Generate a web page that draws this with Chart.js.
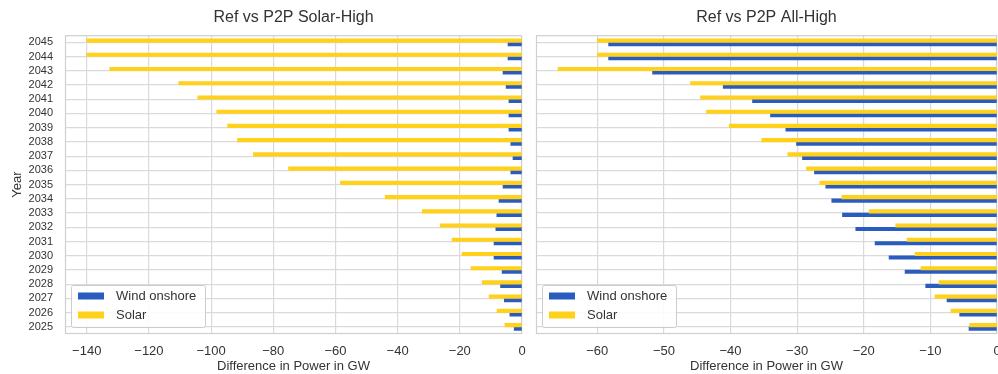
<!DOCTYPE html>
<html>
<head>
<meta charset="utf-8">
<script src="https://cdn.jsdelivr.net/npm/chart.js@4.4.1/dist/chart.umd.min.js"></script>
<style>
  html, body { margin: 0; padding: 0; background: #fff; overflow: hidden; }
  body { width: 998px; height: 374px; position: relative; }
  .panel { position: absolute; top: 0; height: 374px; }
  #left { left: 0; width: 528px; }
  #right { left: 528px; width: 474px; }
</style>
</head>
<body>
<div class="panel" id="left"><canvas id="cLeft" width="528" height="374"></canvas></div>
<div class="panel" id="right"><canvas id="cRight" width="474" height="374"></canvas></div>
<script>
// Years on the category axis (drawn with 2045 at the top)
const years = [2025, 2026, 2027, 2028, 2029, 2030, 2031, 2032, 2033, 2034, 2035,
               2036, 2037, 2038, 2039, 2040, 2041, 2042, 2043, 2044, 2045];

// Ref vs P2P Solar-High, difference in GW
const solarHighSolar = [-5.5, -8.0, -10.6, -12.8, -16.4, -19.3, -22.5, -26.3, -32.1, -44.0, -58.4,
                        -75.1, -86.4, -91.5, -94.7, -98.2, -104.3, -110.4, -132.6, -140.0, -140.0];
const solarHighWind  = [-2.5, -3.9, -5.7, -6.9, -6.4, -9.0, -9.0, -8.4, -8.1, -7.4, -6.1,
                        -3.6, -2.9, -3.6, -4.2, -4.2, -4.2, -5.1, -6.1, -4.5, -4.5];

// Ref vs P2P All-High, difference in GW
const allHighSolar = [-4.1, -6.9, -9.3, -8.7, -11.4, -12.3, -13.5, -15.2, -19.2, -23.3, -26.6,
                      -28.6, -31.4, -35.3, -40.2, -43.6, -44.5, -46.0, -65.9, -60.0, -60.0];
const allHighWind  = [-4.2, -5.6, -7.5, -10.7, -13.8, -16.2, -18.3, -21.2, -23.2, -24.8, -25.7,
                      -27.4, -29.2, -30.1, -31.7, -34.0, -36.7, -41.1, -51.7, -58.3, -58.3];

// Tick values of the x axes
const xTicksSolarHigh = [-140, -120, -100, -80, -60, -40, -20, 0];
const xTicksAllHigh   = [-60, -50, -40, -30, -20, -10, 0];

const WIND_COLOR = '#2a5cc0';
const SOLAR_COLOR = '#ffd11a';
const GRID_COLOR = '#dadada';
const TEXT_COLOR = '#333333';
const FONT = "'Liberation Sans', Arial, sans-serif";

// Plot frame on all four sides
const framePlugin = {
  id: 'frame',
  beforeDatasetsDraw(chart) {
    const { ctx, chartArea: a } = chart;
    ctx.save();
    ctx.strokeStyle = '#cfcfcf';
    ctx.lineWidth = 1.2;
    ctx.strokeRect(a.left + 0.5, a.top + 0.5, a.right - a.left - 1, a.bottom - a.top - 1);
    ctx.restore();
  }
};

// Legend box in the lower-left corner of the plot
const legendBoxPlugin = {
  id: 'legendBox',
  afterDraw(chart) {
    const { ctx, chartArea: a } = chart;
    const items = [
      { text: 'Wind onshore', color: WIND_COLOR },
      { text: 'Solar', color: SOLAR_COLOR }
    ];
    const x = a.left + 6, w = 134, h = 42;
    const y = a.bottom - 7 - h;
    ctx.save();
    ctx.fillStyle = 'rgba(255,255,255,0.85)';
    ctx.strokeStyle = '#cccccc';
    ctx.lineWidth = 1;
    ctx.beginPath();
    ctx.roundRect(x + 0.5, y + 0.5, w, h, 2);
    ctx.fill();
    ctx.stroke();
    ctx.font = '13px ' + FONT;
    ctx.textBaseline = 'middle';
    items.forEach((it, i) => {
      const cy = y + 11 + i * 19;
      ctx.fillStyle = it.color;
      ctx.fillRect(x + 7, cy - 3.5, 26, 7);
      ctx.fillStyle = TEXT_COLOR;
      ctx.fillText(it.text, x + 45, cy);
    });
    ctx.restore();
  }
};

function fmtTick(v) {
  return v === 0 ? '0' : '\u2212' + Math.abs(v);
}

function makeChart(canvasId, title, solar, wind, xTicks, xMin, showYLabels, yWidth, padRight) {
  return new Chart(document.getElementById(canvasId), {
    type: 'bar',
    data: {
      labels: years.map(String),
      datasets: [
        { label: 'Solar', data: solar, backgroundColor: SOLAR_COLOR, barThickness: 3.5, borderWidth: 0 },
        { label: 'Wind onshore', data: wind, backgroundColor: WIND_COLOR, barThickness: 3.5, borderWidth: 0 }
      ]
    },
    options: {
      indexAxis: 'y',
      responsive: false,
      animation: false,
      devicePixelRatio: 1,
      layout: { padding: { left: 0, right: padRight, top: 0, bottom: 0 } },
      plugins: {
        legend: { display: false },
        tooltip: { enabled: false },
        title: {
          display: true,
          text: title,
          fullSize: false,
          color: TEXT_COLOR,
          font: { family: FONT, size: 16, weight: 'normal' },
          padding: { top: 8, bottom: 8 }
        }
      },
      scales: {
        x: {
          type: 'linear',
          min: xMin,
          max: 0,
          afterBuildTicks(scale) { scale.ticks = xTicks.map(v => ({ value: v })); },
          afterFit(scale) { scale.height = 40; },
          grid: { color: GRID_COLOR, lineWidth: 1.2, drawTicks: true, tickLength: 10, tickColor: 'rgba(0,0,0,0)' },
          border: { display: false },
          ticks: {
            color: TEXT_COLOR,
            padding: 0,
            font: { family: FONT, size: 13 },
            callback: fmtTick,
            maxRotation: 0
          },
          title: {
            display: true,
            text: 'Difference in Power in GW',
            color: TEXT_COLOR,
            font: { family: FONT, size: 13 },
            padding: { top: 0, bottom: 0 }
          }
        },
        y: {
          type: 'category',
          reverse: true,
          afterFit(scale) { scale.width = yWidth; },
          grid: { color: GRID_COLOR, lineWidth: 1.2, offset: false, drawTicks: false, tickLength: 0 },
          border: { display: false },
          ticks: {
            display: showYLabels,
            color: TEXT_COLOR,
            padding: 12,
            font: { family: FONT, size: 11 },
            autoSkip: false
          },
          title: {
            display: showYLabels,
            text: 'Year',
            color: TEXT_COLOR,
            font: { family: FONT, size: 13 },
            padding: { top: 10, bottom: 0 }
          }
        }
      }
    },
    plugins: [framePlugin, legendBoxPlugin]
  });
}

makeChart('cLeft', 'Ref vs P2P Solar-High', solarHighSolar, solarHighWind,
          xTicksSolarHigh, -147, true, 65, 6);
makeChart('cRight', 'Ref vs P2P All-High', allHighSolar, allHighWind,
          xTicksAllHigh, -69.2, false, 8, 5);
</script>
</body>
</html>
